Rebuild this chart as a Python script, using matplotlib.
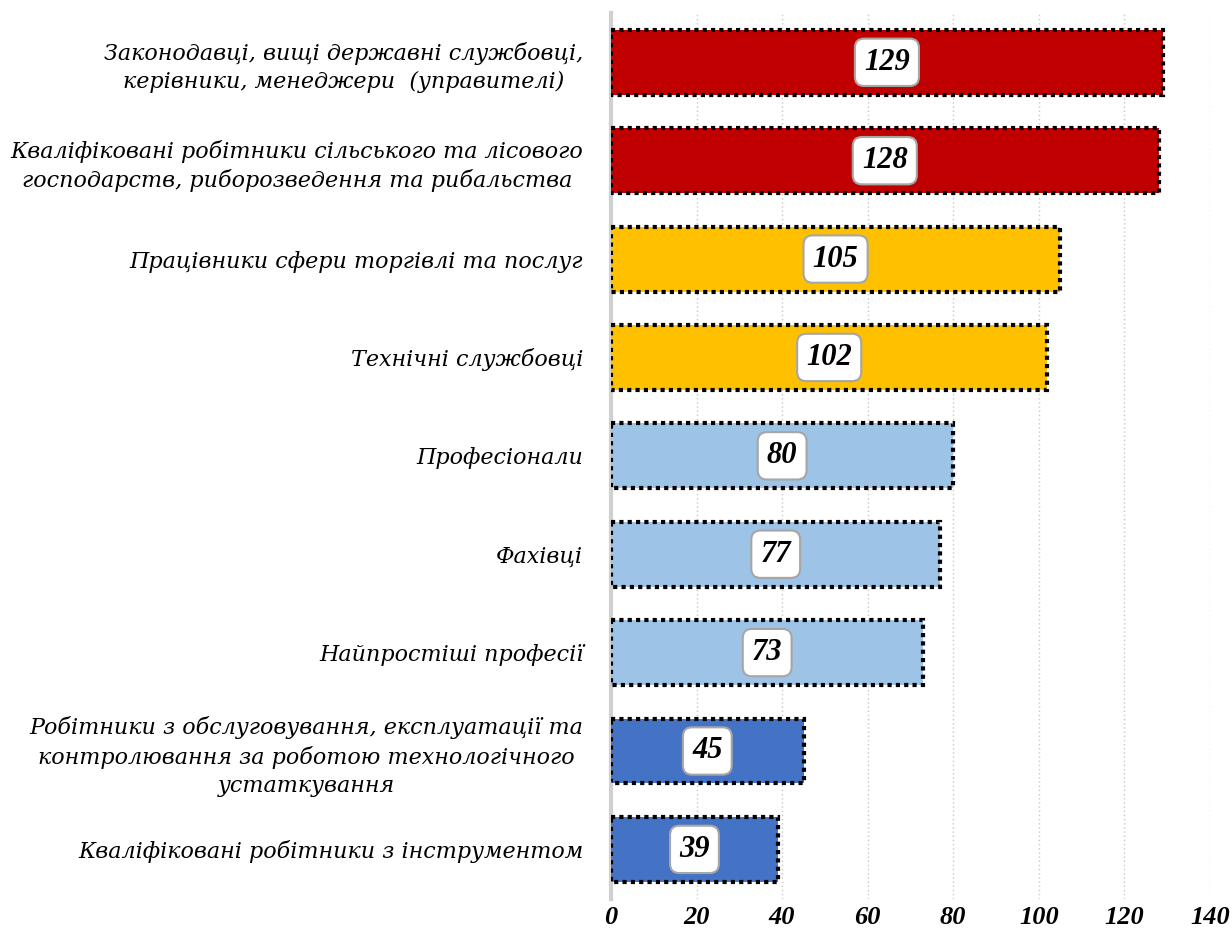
import matplotlib.pyplot as plt

categories = [
    "Законодавці, вищі державні службовці,\nкерівники, менеджери  (управителі)",
    "Кваліфіковані робітники сільського та лісового\nгосподарств, риборозведення та рибальства",
    "Працівники сфери торгівлі та послуг",
    "Технічні службовці",
    "Професіонали",
    "Фахівці",
    "Найпростіші професії",
    "Робітники з обслуговування, експлуатації та\nконтролювання за роботою технологічного\nустаткування",
    "Кваліфіковані робітники з інструментом",
]
values = [129, 128, 105, 102, 80, 77, 73, 45, 39]
colors = ["#C00000", "#C00000", "#FFC000", "#FFC000",
          "#9DC3E6", "#9DC3E6", "#9DC3E6", "#4472C4", "#4472C4"]
xticks = [0, 20, 40, 60, 80, 100, 120, 140]

fig = plt.figure(figsize=(12.32, 9.36), dpi=100)
ax = fig.add_axes([0.496, 0.04, 0.486, 0.946])

y = list(range(len(values)))
ax.barh(y, values, height=0.66, color=colors, edgecolor="black",
        linewidth=3, linestyle=(0, (1, 1)), zorder=3)
ax.set_ylim(len(values) - 0.5, -0.5)
ax.set_xlim(0, 140)

ax.set_yticks(y)
ax.set_yticklabels(categories, fontsize=16, family="DejaVu Serif", style="italic",
                   linespacing=1.35)
for lab in ax.get_yticklabels():
    lab.set_multialignment("center")
ax.tick_params(axis="y", length=0, pad=20)

ax.set_xticks(xticks)
ax.set_xticklabels([str(t) for t in xticks], fontsize=19, family="Liberation Serif",
                   style="italic", weight="bold")
ax.tick_params(axis="x", length=0, pad=5)

ax.grid(axis="x", color="#C8C8C8", linestyle=(0, (1, 2)), linewidth=1, zorder=0)
for s in ["top", "right", "bottom"]:
    ax.spines[s].set_visible(False)
ax.spines["left"].set_color("#D0D0D0")
ax.spines["left"].set_linewidth(3)

for yi, v in zip(y, values):
    ax.text(v / 2, yi, str(v), ha="center", va="center", fontsize=22,
            family="Liberation Serif", style="italic", weight="bold", zorder=5,
            bbox=dict(boxstyle="round,pad=0.3,rounding_size=0.3", fc="white",
                      ec="#A6A6A6", lw=1.5))

fig.savefig("out.png", dpi=100)
